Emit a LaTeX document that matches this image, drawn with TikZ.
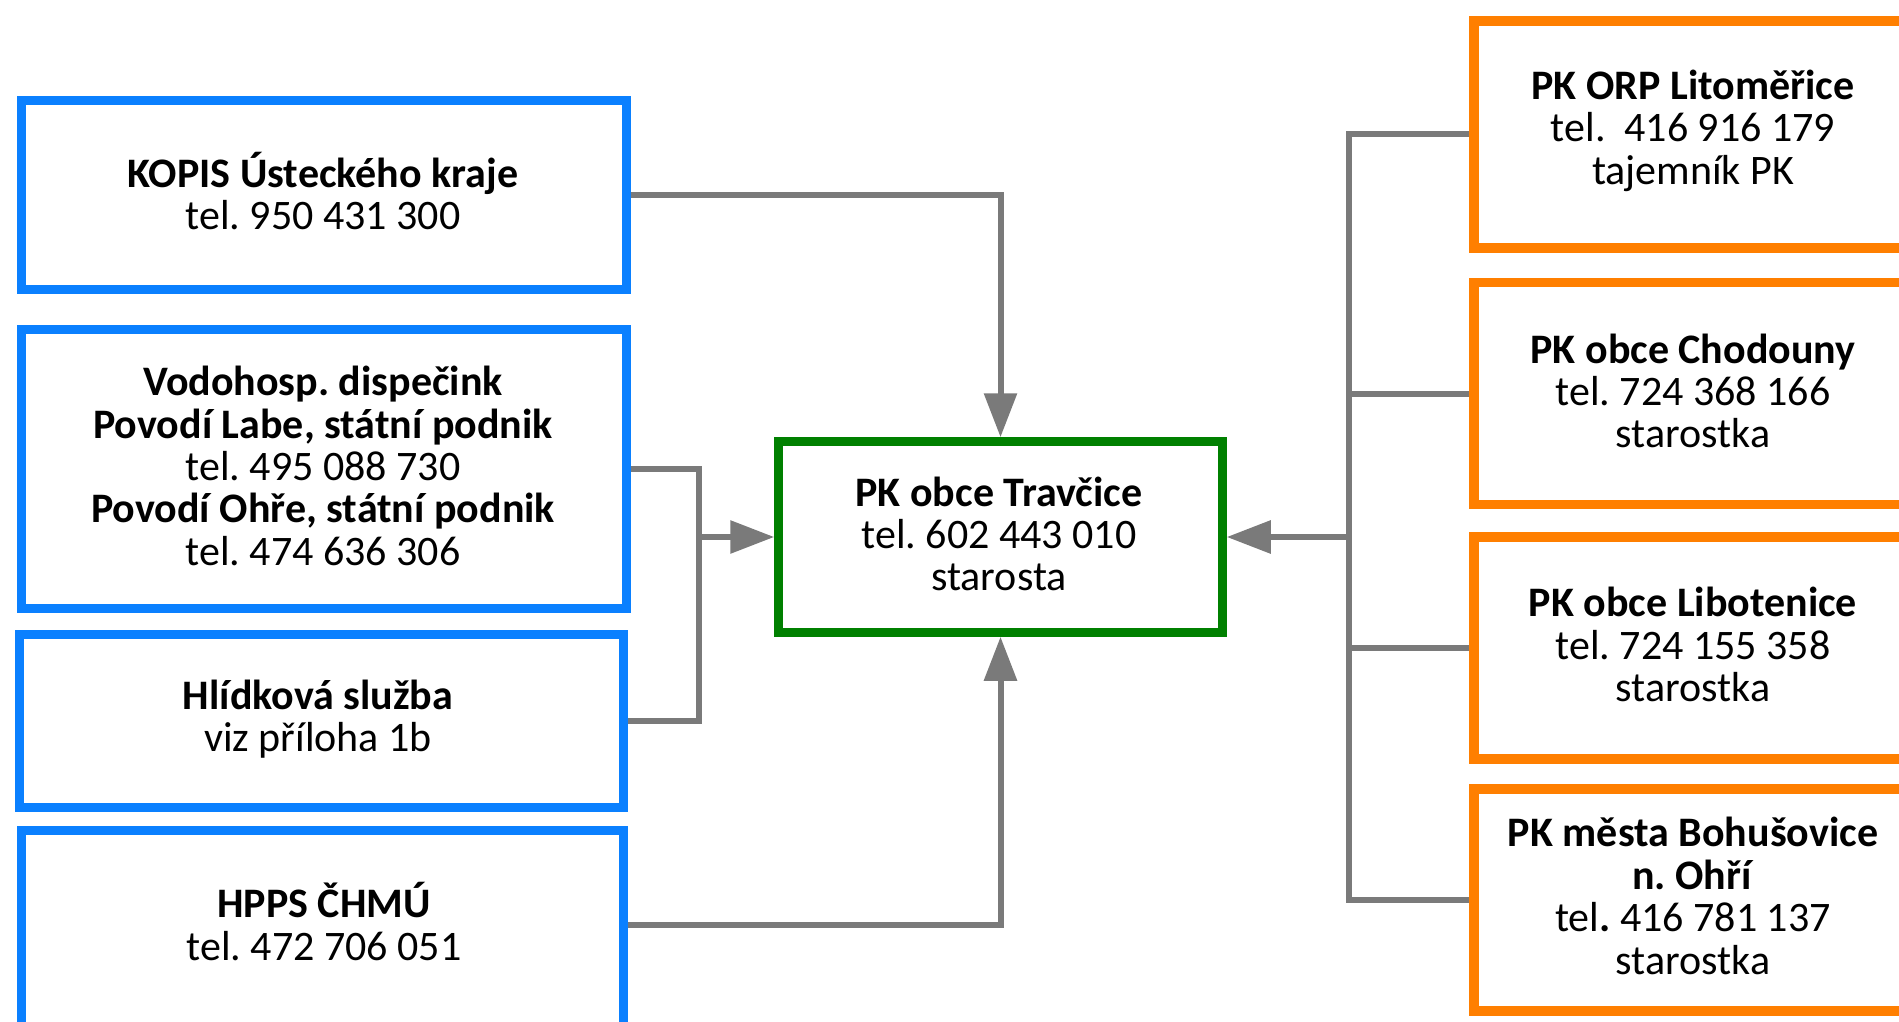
\documentclass[tikz,border=0pt]{standalone}
\usepackage{fontspec}
\setmainfont{Carlito}
\usetikzlibrary{arrows.meta}
\definecolor{bblue}{HTML}{0A80FF}
\definecolor{borange}{HTML}{FF7F00}
\definecolor{bgreen}{HTML}{008000}
\definecolor{cgray}{HTML}{7A7A7A}
\frenchspacing
\begin{document}
\begin{tikzpicture}[x=1pt,y=-1pt,
  bluebox/.style={draw=bblue, line width=9pt, inner sep=0pt, rectangle},
  orangebox/.style={draw=borange, line width=9.5pt, inner sep=0pt, rectangle},
  greenbox/.style={draw=bgreen, line width=8.5pt, inner sep=0pt, rectangle},
  txt/.style={align=center, font=\fontsize{42}{42.4}\selectfont, inner sep=0pt},
  conn/.style={draw=cgray, line width=6pt},
  arr/.style={conn, -{Triangle[length=44pt,width=32pt]}}
]
\useasboundingbox (0,0) rectangle (1899,1022);

% left boxes
\node[bluebox, minimum width=605pt, minimum height=188pt] (kopis) at (323.5,195) {};
\node[bluebox, minimum width=605pt, minimum height=279pt] (vodo) at (323.5,468.5) {};
\node[bluebox, minimum width=604pt, minimum height=173pt] (hlid) at (321,720.5) {};
\node[bluebox, minimum width=602pt, minimum height=210pt] (hpps) at (322,935) {};

% centre box
\node[greenbox, minimum width=444pt, minimum height=191pt] (green) at (1000.5,537) {};

% right boxes
\node[orangebox, minimum width=438pt, minimum height=227pt] (o1) at (1693,134.5) {};
\node[orangebox, minimum width=438pt, minimum height=222pt] (o2) at (1693,393.5) {};
\node[orangebox, minimum width=438pt, minimum height=222pt] (o3) at (1693,648) {};
\node[orangebox, minimum width=438pt, minimum height=222pt] (o4) at (1693,900) {};

% texts
\node[txt] (kopist) at (323,191) {\textbf{KOPIS Ústeckého kraje}\\tel. 950 431 300};
\node[txt] (vodot) at (323,466) {\textbf{Vodohosp. dispečink}\\\textbf{Povodí Labe, státní podnik}\\tel. 495 088 730\\\textbf{Povodí Ohře, státní podnik}\\tel. 474 636 306};
\node[txt] (hlidt) at (318,719) {\textbf{Hlídková služba}\\viz příloha 1b};
\node[txt] (hppst) at (324,921.5) {\textbf{HPPS ČHMÚ}\\tel. 472 706 051};
\node[txt] (greent) at (999,534) {\textbf{PK obce Travčice}\\tel. 602 443 010\\starosta};
\node[txt] (o1t) at (1693,130.5) {\textbf{PK ORP Litoměřice}\\tel.\ \ 416 916 179\\tajemník PK};
\node[txt] (o2t) at (1693,391) {\textbf{PK obce Chodouny}\\tel. 724 368 166\\starostka};
\node[txt] (o3t) at (1693,644.5) {\textbf{PK obce Libotenice}\\tel. 724 155 358\\starostka};
\node[txt] (o4t) at (1693,896) {\textbf{PK města Bohušovice}\\\textbf{n. Ohří}\\tel\textbf{.} 416 781 137\\starostka};

% junction points
\path (green.west) ++(-75,0) coordinate (jl);
\path (green.east) ++(122,0) coordinate (jr);

% left connectors
\draw[arr] (kopis.east) -| (green.north);
\draw[conn] (vodo.east) -| (jl) |- (hlid.east);
\draw[arr] (jl) -- (green.west);
\draw[arr] ([yshift=10pt]hpps.east) -| (green.south);

% right connectors
\draw[conn] (o1.west) -| (jr) |- (o4.west);
\draw[conn] (o2.west) -- (o2.west -| jr);
\draw[conn] (o3.west) -- (o3.west -| jr);
\draw[arr] (jr) -- (green.east);
\end{tikzpicture}
\end{document}
